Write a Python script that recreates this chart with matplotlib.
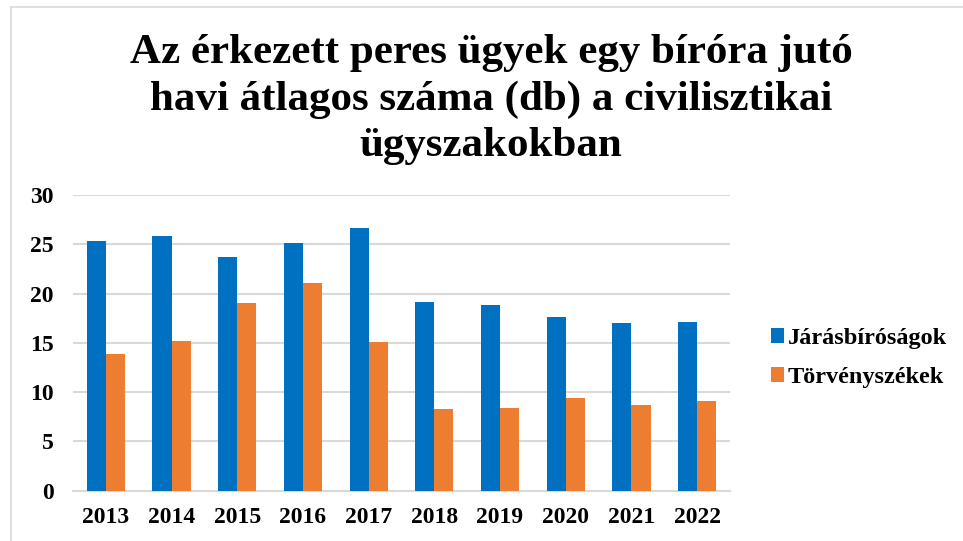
import matplotlib.pyplot as plt
import numpy as np
from matplotlib.patches import Rectangle

years = ['2013', '2014', '2015', '2016', '2017', '2018', '2019', '2020', '2021', '2022']
jarasbirosagok = [25.3, 25.8, 23.7, 25.1, 26.7, 19.1, 18.8, 17.6, 17.0, 17.1]
torvenyszekek = [13.9, 15.2, 19.0, 21.1, 15.1, 8.3, 8.4, 9.4, 8.7, 9.1]
series_names = ['Járásbíróságok', 'Törvényszékek']

plt.rcParams['font.family'] = ['Liberation Serif', 'DejaVu Serif']
plt.rcParams['font.weight'] = 'bold'

W, H = 963, 541
fig = plt.figure(figsize=(W / 100, H / 100), dpi=100)

# chart frame (only top/left visible in the reference)
fig.patches.append(Rectangle((11 / W, -0.1), 1.2, 1 - 7 / H + 0.1,
                             transform=fig.transFigure, fill=False,
                             edgecolor='#d9d9d9', linewidth=1.2))

ax = fig.add_axes([73 / W, 1 - 490.7 / H, (730 - 73) / W, (490.7 - 195) / H])

x = np.arange(len(years))
w = 0.29
ax.bar(x - w / 2, jarasbirosagok, w, color='#0070C0', label=series_names[0], zorder=3)
ax.bar(x + w / 2, torvenyszekek, w, color='#ED7D31', label=series_names[1], zorder=3)

ax.set_xlim(-0.5, len(years) - 0.5)
ax.set_ylim(0, 30)
ax.set_yticks(range(0, 31, 5))
ax.set_xticks(x)
ax.set_xticklabels(years)
ax.grid(axis='y', color='#d9d9d9', linewidth=1.5, zorder=0)
for s in ['top', 'right', 'left']:
    ax.spines[s].set_visible(False)
ax.spines['bottom'].set_color('#d9d9d9')
ax.spines['bottom'].set_linewidth(1.5)
ax.tick_params(length=0, labelsize=17)
ax.tick_params(axis='y', pad=14)
ax.tick_params(axis='x', pad=12)

fig.text(491 / W, 1 - 34 / H,
         'Az érkezett peres ügyek egy bíróra jutó\nhavi átlagos száma (db) a civilisztikai\nügyszakokban',
         ha='center', va='top', fontsize=31, fontweight='bold', linespacing=1.28)

fig.legend(loc='center left', bbox_to_anchor=(771 / W, 1 - 358 / H), frameon=False,
           fontsize=17.5, handlelength=0.55, handleheight=0.55, handletextpad=0.15,
           labelspacing=0.75, borderpad=0, borderaxespad=0)

fig.savefig('out.png', dpi=100)
